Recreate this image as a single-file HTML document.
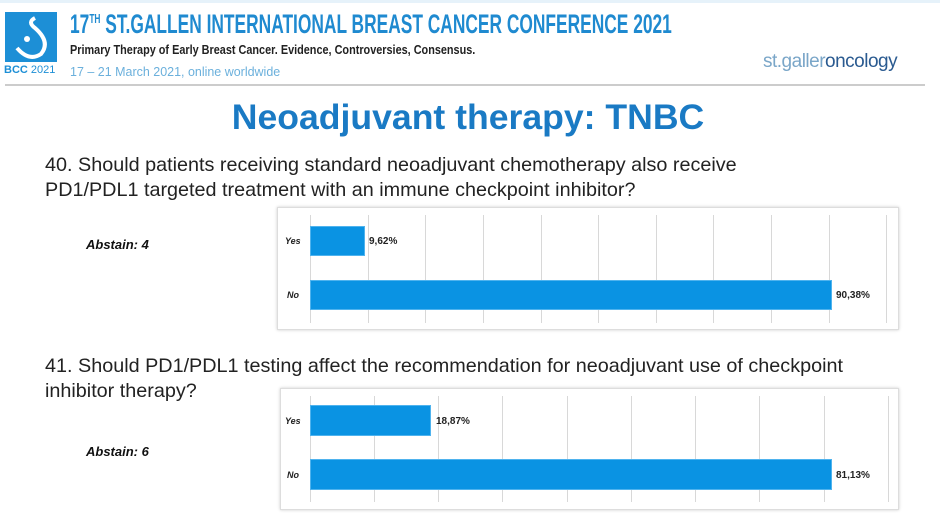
<!DOCTYPE html>
<html><head><meta charset="utf-8"><style>
body{margin:0;width:940px;height:513px;background:#fff;position:relative;overflow:hidden;font-family:"Liberation Sans",sans-serif}
.a{position:absolute;white-space:nowrap}
.frame{position:absolute;border:1px solid #ddd;box-shadow:0 0 3px #ccc;background:#fff}
.g{position:absolute;width:1px;background:#d8d8d8}
.bar{position:absolute;background:#0a93e3;border:1px solid #4fb3ee;box-sizing:border-box}
.lbl{position:absolute;font-size:9px;font-weight:bold;font-style:italic;color:#222}
.val{position:absolute;font-size:10px;font-weight:bold;color:#222}
.q{position:absolute;font-size:19.8px;color:#222;line-height:25px;white-space:nowrap}
</style></head><body>
<div class="a" style="left:0;top:0;width:940px;height:3px;background:#e6f2fa"></div>
<div class="a" style="left:5px;top:12px;width:52px;height:50px;background:#1d8fd6"></div>
<svg class="a" style="left:5px;top:12px" width="52" height="50"><path d="M30 6 Q22 10 30 16 Q46 30 36 42 Q24 50 12 36" stroke="#fff" stroke-width="4" fill="none"/><circle cx="22" cy="27" r="3" fill="#fff"/></svg>
<div class="a" style="left:4px;top:64px;font-size:11px;color:#1d8fd6"><b>BCC</b> 2021</div>
<div class="a" style="left:70px;top:9px;font-size:27px;font-weight:bold;color:#1f8ad0;transform:scaleX(0.643);transform-origin:0 0;">17<sup style="font-size:13px">TH</sup> ST.GALLEN INTERNATIONAL BREAST CANCER CONFERENCE 2021</div>
<div class="a" style="left:70px;top:42px;font-size:13px;font-weight:bold;color:#222;transform:scaleX(0.836);transform-origin:0 0;">Primary Therapy of Early Breast Cancer. Evidence, Controversies, Consensus.</div>
<div class="a" style="left:70px;top:64px;font-size:13px;color:#6bb0dc;transform:scaleX(0.96);transform-origin:0 0;">17 – 21 March 2021, online worldwide</div>
<div class="a" style="left:763px;top:51px;font-size:19px;color:#7aa6c8;letter-spacing:-0.5px">st.galler<span style="color:#2a5a90">oncology</span></div>
<div class="a" style="left:5px;top:84px;width:920px;height:2px;background:#ccc"></div>
<div class="a" style="left:0;width:936px;top:97px;text-align:center;font-size:35.6px;font-weight:bold;color:#1a7ac4">Neoadjuvant therapy: TNBC</div>
<div class="q" style="left:45px;top:153px">40. Should patients receiving standard neoadjuvant chemotherapy also receive<br>PD1/PDL1 targeted treatment with an immune checkpoint inhibitor?</div>
<div class="a" style="left:86px;top:237px;font-size:13px;font-weight:bold;font-style:italic;color:#111">Abstain: 4</div>
<div class="frame" style="left:277px;top:207px;width:620px;height:121px"></div>
<div class="g" style="left:310px;top:215px;height:108px"></div><div class="g" style="left:368px;top:215px;height:108px"></div><div class="g" style="left:425px;top:215px;height:108px"></div><div class="g" style="left:483px;top:215px;height:108px"></div><div class="g" style="left:541px;top:215px;height:108px"></div><div class="g" style="left:598px;top:215px;height:108px"></div><div class="g" style="left:656px;top:215px;height:108px"></div><div class="g" style="left:713px;top:215px;height:108px"></div><div class="g" style="left:771px;top:215px;height:108px"></div><div class="g" style="left:829px;top:215px;height:108px"></div><div class="g" style="left:886px;top:215px;height:108px"></div>
<div class="bar" style="left:310px;top:226px;width:55px;height:30px"></div>
<div class="bar" style="left:310px;top:280px;width:522px;height:30px"></div>
<div class="lbl" style="left:285px;top:236px">Yes</div><div class="lbl" style="left:287px;top:290px">No</div>
<div class="val" style="left:369px;top:236px">9,62%</div><div class="val" style="left:836px;top:290px">90,38%</div>
<div class="q" style="left:45px;top:354px">41. Should PD1/PDL1 testing affect the recommendation for neoadjuvant use of checkpoint<br>inhibitor therapy?</div>
<div class="a" style="left:86px;top:444px;font-size:13px;font-weight:bold;font-style:italic;color:#111">Abstain: 6</div>
<div class="frame" style="left:280px;top:388px;width:617px;height:120px"></div>
<div class="g" style="left:310px;top:396px;height:106px"></div><div class="g" style="left:374px;top:396px;height:106px"></div><div class="g" style="left:438px;top:396px;height:106px"></div><div class="g" style="left:502px;top:396px;height:106px"></div><div class="g" style="left:567px;top:396px;height:106px"></div><div class="g" style="left:631px;top:396px;height:106px"></div><div class="g" style="left:695px;top:396px;height:106px"></div><div class="g" style="left:759px;top:396px;height:106px"></div><div class="g" style="left:824px;top:396px;height:106px"></div><div class="g" style="left:888px;top:396px;height:106px"></div>
<div class="bar" style="left:310px;top:405px;width:121px;height:31px"></div>
<div class="bar" style="left:310px;top:459px;width:522px;height:31px"></div>
<div class="lbl" style="left:285px;top:416px">Yes</div><div class="lbl" style="left:287px;top:470px">No</div>
<div class="val" style="left:436px;top:416px">18,87%</div><div class="val" style="left:836px;top:470px">81,13%</div>
</body></html>
